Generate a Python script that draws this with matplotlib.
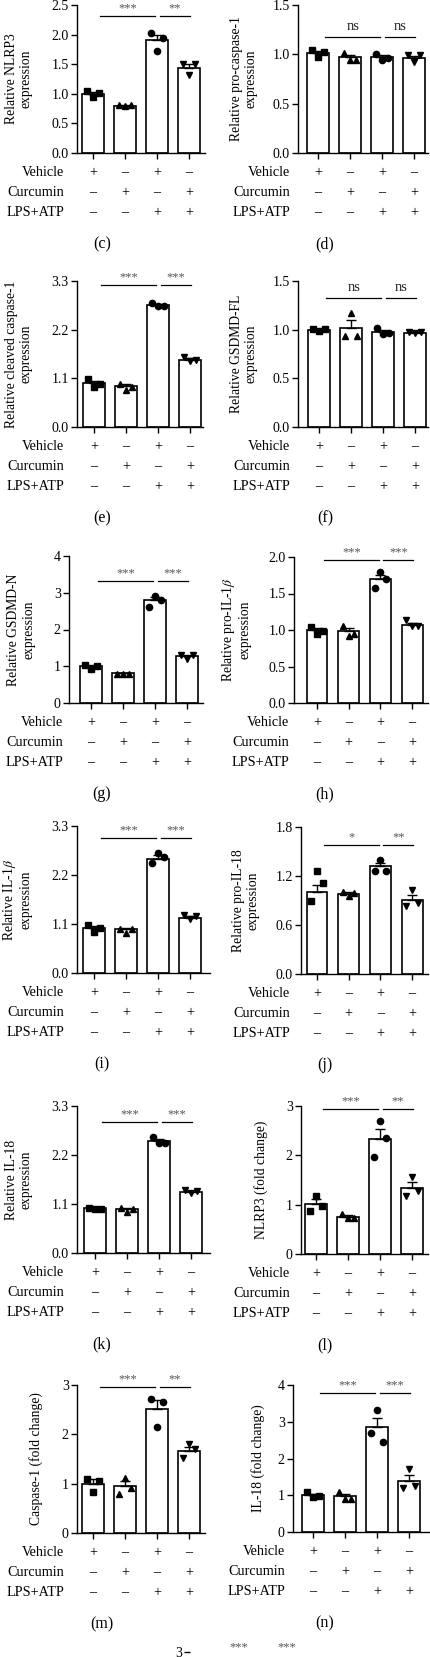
import matplotlib
matplotlib.use("Agg")
import matplotlib.pyplot as plt

plt.rcParams['font.family'] = ['Liberation Serif', 'DejaVu Serif']
plt.rcParams['mathtext.fontset'] = 'stix'

# ---- data -------------------------------------------------------------
row_names = ["Vehicle", "Curcumin", "LPS+ATP"]
row_signs = [["+", "–", "+", "–"],
             ["–", "+", "–", "+"],
             ["–", "–", "+", "+"]]
letters = ["(c)", "(d)", "(e)", "(f)", "(g)", "(h)",
           "(i)", "(j)", "(k)", "(l)", "(m)", "(n)"]
ylabels = ["Relative NLRP3\nexpression",
           "Relative pro-caspase-1\nexpression",
           "Relative cleaved caspase-1\nexpression",
           "Relative GSDMD-FL\nexpression",
           "Relative GSDMD-N\nexpression",
           "Relative pro-IL-1$\\beta$\nexpression",
           "Relative IL-1$\\beta$\nexpression",
           "Relative pro-IL-18\nexpression",
           "Relative IL-18\nexpression",
           "NLRP3 (fold change)",
           "Caspase-1 (fold change)",
           "IL-18 (fold change)"]

c_mean = [1.00, 0.80, 1.91, 1.43]
c_sem = [0.03, 0.005, 0.09, 0.065]
c_pts = [[1.05, 0.95, 1.01], [0.81, 0.80, 0.81], [2.03, 1.73, 1.95], [1.51, 1.31, 1.51]]

d_mean = [1.01, 0.97, 0.97, 0.96]
d_sem = [0.02, 0.02, 0.02, 0.02]
d_pts = [[1.04, 0.97, 1.02], [1.01, 0.94, 0.94], [1.00, 0.94, 0.96], [0.99, 0.92, 0.99]]

e_mean = [0.99, 0.93, 2.75, 1.52]
e_sem = [0.05, 0.04, 0.02, 0.03]
e_pts = [[1.09, 0.90, 0.97], [0.98, 0.84, 0.90], [2.81, 2.74, 2.74], [1.58, 1.49, 1.52]]

f_mean = [1.00, 1.02, 0.98, 0.97]
f_sem = [0.01, 0.08, 0.02, 0.01]
f_pts = [[1.01, 0.99, 1.01], [0.93, 1.17, 0.93], [1.02, 0.96, 0.97], [0.98, 0.97, 0.98]]

g_mean = [1.00, 0.81, 2.80, 1.27]
g_sem = [0.04, 0.01, 0.09, 0.04]
g_pts = [[1.04, 0.93, 1.02], [0.80, 0.80, 0.80], [2.62, 2.92, 2.81], [1.31, 1.19, 1.31]]

h_mean = [1.00, 0.99, 1.70, 1.07]
h_sem = [0.03, 0.04, 0.06, 0.03]
h_pts = [[1.04, 0.95, 0.99], [1.05, 0.92, 0.95], [1.58, 1.80, 1.70], [1.14, 1.05, 1.05]]

i_mean = [1.00, 0.98, 2.57, 1.24]
i_sem = [0.05, 0.03, 0.07, 0.03]
i_pts = [[1.07, 0.91, 1.02], [0.98, 0.90, 0.98], [2.46, 2.70, 2.60], [1.30, 1.21, 1.28]]

j_mean = [1.01, 0.98, 1.32, 0.91]
j_sem = [0.08, 0.02, 0.04, 0.06]
j_pts = [[0.90, 1.26, 1.11], [1.01, 0.95, 0.99], [1.26, 1.39, 1.26], [0.83, 1.03, 0.87]]

k_mean = [1.00, 0.98, 2.51, 1.38]
k_sem = [0.01, 0.03, 0.05, 0.02]
k_pts = [[1.02, 0.99, 0.99], [1.00, 0.92, 0.98], [2.61, 2.48, 2.48], [1.41, 1.35, 1.40]]

l_mean = [1.02, 0.76, 2.33, 1.34]
l_sem = [0.09, 0.03, 0.21, 0.11]
l_pts = [[0.88, 1.18, 0.98], [0.82, 0.73, 0.73], [1.96, 2.70, 2.35], [1.18, 1.56, 1.27]]

m_mean = [1.00, 0.95, 2.51, 1.67]
m_sem = [0.09, 0.10, 0.18, 0.08]
m_pts = [[1.10, 0.83, 1.05], [0.79, 1.12, 0.92], [2.72, 2.15, 2.66], [1.53, 1.81, 1.71]]

n_mean = [1.00, 0.97, 2.85, 1.39]
n_sem = [0.04, 0.06, 0.25, 0.15]
n_pts = [[1.09, 0.95, 0.97], [1.08, 0.90, 0.90], [2.69, 3.32, 2.46], [1.21, 1.71, 1.26]]

yticks_all = [[0, 0.5, 1.0, 1.5, 2.0, 2.5], [0, 0.5, 1.0, 1.5],
              [0, 1.1, 2.2, 3.3], [0, 0.5, 1.0, 1.5],
              [0, 1, 2, 3, 4], [0, 0.5, 1.0, 1.5, 2.0],
              [0, 1.1, 2.2, 3.3], [0, 0.6, 1.2, 1.8],
              [0, 1.1, 2.2, 3.3], [0, 1, 2, 3],
              [0, 1, 2, 3], [0, 1, 2, 3, 4]]
ytick_fmt = ["%.1f", "%.1f", "%.1f", "%.1f", "%d", "%.1f",
             "%.1f", "%.1f", "%.1f", "%d", "%d", "%d"]
sig_text = [["***", "**"], ["ns", "ns"], ["***", "***"], ["ns", "ns"],
            ["***", "***"], ["***", "***"], ["***", "***"], ["*", "**"],
            ["***", "***"], ["***", "**"], ["***", "**"], ["***", "***"]]
sig_y = [2.31, 1.18, 3.21, 1.325, 3.32, 1.96, 3.03, 1.58, 2.94, 2.94, 2.96, 3.78]

means = [c_mean, d_mean, e_mean, f_mean, g_mean, h_mean,
         i_mean, j_mean, k_mean, l_mean, m_mean, n_mean]
sems = [c_sem, d_sem, e_sem, f_sem, g_sem, h_sem,
        i_sem, j_sem, k_sem, l_sem, m_sem, n_sem]
points = [c_pts, d_pts, e_pts, f_pts, g_pts, h_pts,
          i_pts, j_pts, k_pts, l_pts, m_pts, n_pts]

# ---- layout (pixels): left, right, top, bottom, first bar centre, spacing
W, H = 431, 1657
boxes = [(77, 205, 5, 153, 93, 32), (298, 428, 5, 153, 318, 32),
         (77, 203, 281, 427, 94, 32), (298, 428, 281, 427, 319, 32),
         (69, 203, 556, 703, 91, 32), (294, 428, 557, 703, 317, 31.7),
         (77, 210, 826, 973, 94, 32), (301, 428, 827, 974, 317, 31.7),
         (77, 210, 1106, 1253, 95, 32), (301, 428, 1106, 1254, 316, 32),
         (77, 205, 1385, 1533, 93, 32), (293, 430, 1385, 1532, 313, 32)]
label_right = [33, 258, 33, 258, 35, 252, 33, 260, 33, 268, 43, 265]
names_right = [64, 290, 64, 290, 63, 289, 64, 290, 64, 290, 64, 285]
markers = ['s', '^', 'o', 'v']

fig = plt.figure(figsize=(W / 100, H / 100), dpi=100)


def draw_panel(k):
    left, right, top, bottom, c0, sp = boxes[k]
    ax = fig.add_axes([left / W, 1 - bottom / H, (right - left) / W, (bottom - top) / H])
    x = [0, 1, 2, 3]
    ax.errorbar(x, means[k], yerr=[[0] * 4, sems[k]], fmt='none', ecolor='black',
                elinewidth=1, capsize=3.5, capthick=1, zorder=3)
    ax.bar(x, means[k], width=0.66, color='white', edgecolor='black',
           linewidth=1.2, zorder=2)
    for i in x:
        ax.plot([i - 0.18, i, i + 0.18], points[k][i], markers[i], color='black',
                ms=4.5, zorder=4, clip_on=False)
    ax.set_xlim((left - c0) / sp, (right - c0) / sp)
    yt = yticks_all[k]
    ax.set_ylim(0, yt[-1])
    ax.set_yticks(yt)
    ax.set_yticklabels([ytick_fmt[k] % v for v in yt], fontsize=10)
    ax.set_xticks(x)
    ax.set_xticklabels([])
    ax.tick_params(direction='out', length=4, width=1, pad=2)
    for s in ['top', 'right']:
        ax.spines[s].set_visible(False)
    for s in ['left', 'bottom']:
        ax.spines[s].set_linewidth(1)
    ax.set_ylabel(ylabels[k], fontsize=9.8, linespacing=1.2)
    ax.yaxis.set_label_coords((label_right[k] - left) / (right - left), 0.5)

    # significance bars
    spans = [(0.22, 1.95), (2.09, 3.04)]
    for (a, b), t in zip(spans, sig_text[k]):
        ax.plot([a, b], [sig_y[k], sig_y[k]], color='black', lw=0.9, clip_on=False)
        star = '*' in t
        ax.annotate(t, xy=((a + b) / 2, sig_y[k]), xytext=(0, 2 if star else 4),
                    textcoords='offset pixels', ha='center', va='bottom',
                    fontsize=9 if star else 10.5,
                    color='#555555' if star else '#222222', annotation_clip=False)

    # treatment table below the axis
    for r, name in enumerate(row_names):
        dy = 19.5 + 20 * r
        ax.annotate(name, xy=(0, 0), xycoords='axes fraction',
                    xytext=(names_right[k] - left, -dy), textcoords='offset pixels',
                    ha='right', va='center', fontsize=10.2)
        for i in x:
            ax.annotate(row_signs[r][i], xy=(i, 0), xycoords=('data', 'axes fraction'),
                        xytext=(0, -dy), textcoords='offset pixels', ha='center',
                        va='center', fontsize=10.2)
    lx = 102 if left < 200 else 325
    fig.text(lx / W, 1 - (bottom + 91) / H, letters[k], ha='center', va='center', fontsize=11.5)


for k in range(12):
    draw_panel(k)

# next panel, cut off at the bottom of the page
axo = fig.add_axes([190 / W, 1 - (1652 + 147) / H, 130 / W, 147 / H])
axo.set_ylim(0, 3)
axo.set_xlim(-0.4, 3.5)
axo.set_yticks([3])
axo.set_yticklabels(["3"], fontsize=10)
axo.set_xticks([])
axo.tick_params(direction='out', length=4, width=1, pad=2)
for s in ['top', 'right', 'bottom', 'left']:
    axo.spines[s].set_visible(False)
for xc, t in zip([1.05, 2.5], ["***", "***"]):
    axo.text(xc, 2.97, t, ha='center', va='bottom', fontsize=9, color='#555555', clip_on=False)

fig.savefig("out.png", dpi=100)
